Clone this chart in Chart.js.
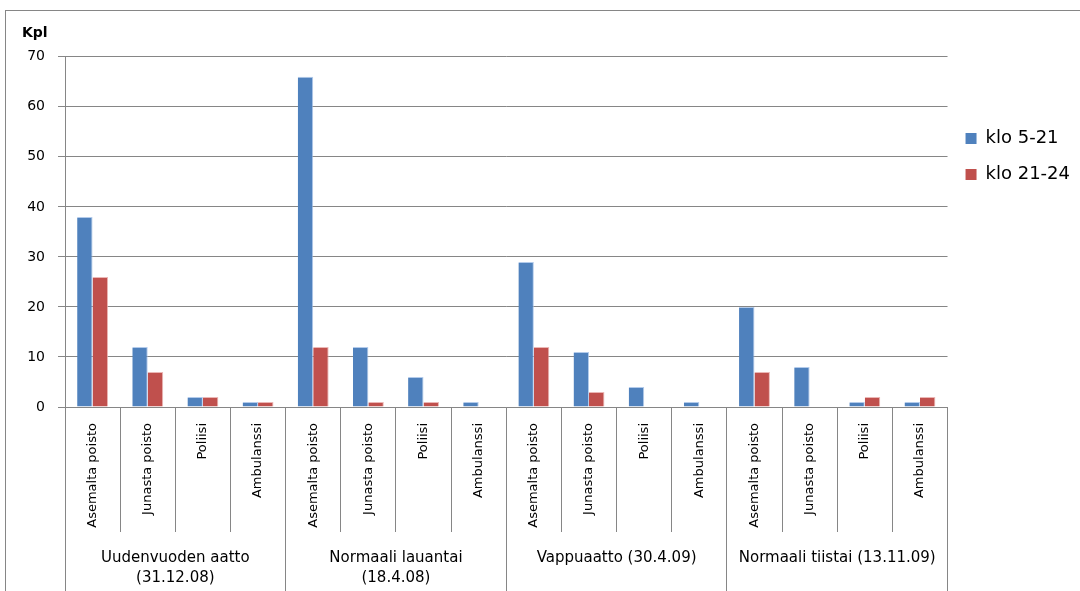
<!DOCTYPE html>
<html>
<head>
<meta charset="utf-8">
<title>Kpl</title>
<script src="https://cdn.jsdelivr.net/npm/chart.js@4/dist/chart.umd.min.js"></script>
<style>
  html, body { margin: 0; padding: 0; background: #ffffff; }
  #wrap { width: 1080px; height: 591px; position: relative; }
</style>
</head>
<body>
<div id="wrap"><canvas id="c" width="1080" height="591"></canvas></div>
<script>
// Categories: four days, each split into four kinds of incident
const groups = [
  ['Uudenvuoden aatto', '(31.12.08)'],
  ['Normaali lauantai', '(18.4.08)'],
  'Vappuaatto (30.4.09)',
  'Normaali tiistai (13.11.09)'
];
const kinds = ['Asemalta poisto', 'Junasta poisto', 'Poliisi', 'Ambulanssi'];
const categories = [].concat(kinds, kinds, kinds, kinds);

// Counts per category, in the order above
const klo5to21  = [38, 12, 2, 1,  66, 12, 6, 1,  29, 11, 4, 1,  20, 8, 1, 1];
const klo21to24 = [26, 7, 2, 1,   12, 1, 1, 0,   12, 3, 0, 0,   7, 0, 2, 2];

const seriesNames = ['klo 5-21', 'klo 21-24'];
const yTicks = { min: 0, max: 70, step: 10 };

const GRID = '#868686';
const FONT = 'DejaVu Sans';

// Outer frame around the whole chart
const framePlugin = {
  id: 'frame',
  beforeDraw(chart) {
    const ctx = chart.ctx;
    ctx.save();
    ctx.fillStyle = '#ffffff';
    ctx.fillRect(0, 0, chart.width, chart.height);
    ctx.strokeStyle = GRID;
    ctx.lineWidth = 1;
    ctx.strokeRect(5.5, 10.5, chart.width + 20, chart.height + 20);
    ctx.restore();
  }
};

new Chart(document.getElementById('c'), {
  type: 'bar',
  data: {
    labels: categories,
    datasets: [
      { label: seriesNames[0], data: klo5to21, backgroundColor: '#4F81BD', borderColor: 'rgba(160,190,230,0.8)', borderWidth: { top: 1, right: 1 }, borderSkipped: 'bottom', xAxisID: 'x', yAxisID: 'y' },
      { label: seriesNames[1], data: klo21to24, backgroundColor: '#C0504D', borderColor: 'rgba(230,165,163,0.8)', borderWidth: { top: 1, right: 1 }, borderSkipped: 'bottom', xAxisID: 'x', yAxisID: 'y' }
    ]
  },
  options: {
    responsive: false,
    animation: false,
    devicePixelRatio: 1,
    layout: { padding: { left: 22, right: 0, top: 0, bottom: 0 } },
    datasets: { bar: { categoryPercentage: 0.56, barPercentage: 1.0 } },
    plugins: {
      tooltip: { enabled: false },
      title: {
        display: true,
        text: 'Kpl',
        align: 'start',
        color: '#000000',
        font: { family: FONT, size: 14, weight: 'bold', lineHeight: 1.2 },
        padding: { top: 25, bottom: 15 }
      },
      legend: {
        position: 'right',
        align: 'start',
        title: { display: true, text: '', font: { size: 12, lineHeight: 1.2 }, padding: { top: 97, bottom: 0 } },
        labels: {
          boxWidth: 11,
          boxHeight: 11,
          padding: 18,
          color: '#000000',
          font: { family: FONT, size: 18 },
          generateLabels(chart) {
            return Chart.defaults.plugins.legend.labels.generateLabels(chart).map(item => {
              item.lineWidth = 0;
              return item;
            });
          }
        }
      }
    },
    scales: {
      y: {
        min: yTicks.min,
        max: yTicks.max,
        ticks: {
          stepSize: yTicks.step,
          padding: 13,
          color: '#000000',
          font: { family: FONT, size: 14 }
        },
        grid: { color: GRID, lineWidth: 1, tickLength: 7 },
        border: { color: GRID, width: 1 },
        afterFit(scale) { scale.width = 43; }
      },
      x: {
        type: 'category',
        position: 'bottom',
        weight: 0,
        offset: true,
        grid: {
          display: true,
          offset: true,
          drawOnChartArea: false,
          drawTicks: true,
          tickLength: 125,
          color: GRID,
          lineWidth: 1
        },
        border: { color: GRID, width: 1 },
        ticks: {
          autoSkip: false,
          minRotation: 90,
          maxRotation: 90,
          padding: -109,
          color: '#000000',
          font: { family: FONT, size: 13 }
        },
        afterFit(scale) { scale.height = 125; }
      },
      x2: {
        type: 'category',
        position: 'bottom',
        weight: 1,
        labels: groups,
        offset: true,
        grid: {
          display: true,
          offset: true,
          drawOnChartArea: false,
          drawTicks: true,
          tickLength: 59,
          color: GRID,
          lineWidth: 1
        },
        border: { display: false },
        ticks: {
          autoSkip: false,
          maxRotation: 0,
          minRotation: 0,
          padding: -43,
          color: '#000000',
          font: { family: FONT, size: 15, lineHeight: 1.33 }
        },
        afterFit(scale) { scale.height = 59; }
      }
    }
  },
  plugins: [framePlugin]
});
</script>
</body>
</html>
